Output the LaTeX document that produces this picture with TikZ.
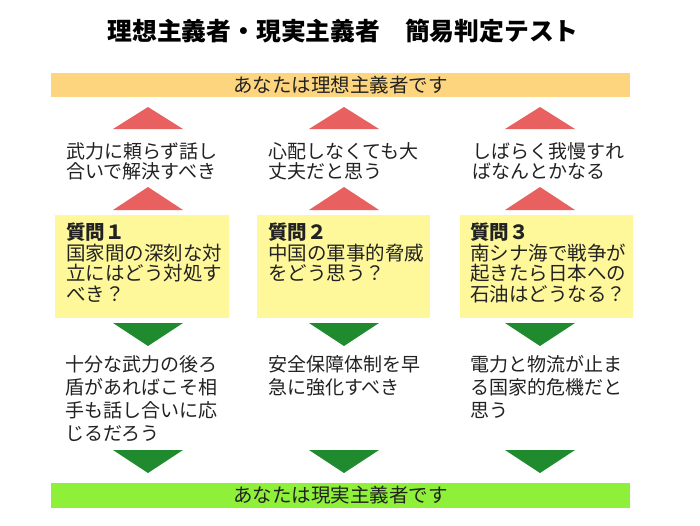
\documentclass[tikz,border=0pt]{standalone}
\usepackage{fontspec}
\setmainfont{Noto Sans CJK JP}
\definecolor{orangebar}{HTML}{FDD57E}
\definecolor{greenbar}{HTML}{8FF03A}
\definecolor{redtri}{HTML}{E8605F}
\definecolor{greentri}{HTML}{1F8A2E}
\definecolor{qbox}{HTML}{FFF89A}
\definecolor{ink}{HTML}{222222}
\tikzset{
  bar/.style={inner sep=0pt, minimum width=579pt, minimum height=24.5pt},
  bartext/.style={inner sep=0pt, anchor=base, text=ink, font=\fontsize{19.5}{20}\selectfont},
  uptri/.style={fill=redtri},
  downtri/.style={fill=greentri},
  qboxstyle/.style={fill=qbox},
  smalltext/.style={inner sep=0pt, anchor=base west, align=left, text=ink, text width=180pt},
}
\begin{document}
\begin{tikzpicture}[x=1pt,y=-1pt]
\useasboundingbox (0,0) rectangle (700,525);
\fill[white] (0,0) rectangle (700,525);
% title
\node[inner sep=0pt, anchor=base, font=\fontsize{24.8}{26}\selectfont\bfseries] (title) at (343,40) {理想主義者・現実主義者　簡易判定テスト};
% bars
\node[bar, fill=orangebar] (ideal) at (340.5,85) {};
\node[bartext] (idealtext) at (340.5,92.3) {あなたは理想主義者です};
\node[bar, fill=greenbar] (real) at (340.5,495.5) {};
\node[bartext] (realtext) at (340.5,502.8) {あなたは現実主義者です};
% triangles
\foreach \c in {148,344,540}{
  \fill[uptri] (\c-35,129) -- (\c,107) -- (\c+35,129) -- cycle;
  \fill[uptri] (\c-35,210) -- (\c,187) -- (\c+35,210) -- cycle;
  \fill[downtri] (\c-35,323) -- (\c,346) -- (\c+35,323) -- cycle;
  \fill[downtri] (\c-35,450) -- (\c,473) -- (\c+35,450) -- cycle;
}
% question boxes
\fill[qboxstyle] (55,215) rectangle (229,318);
\fill[qboxstyle] (257,215) rectangle (430,318);
\fill[qboxstyle] (460,215) rectangle (633,318);
% upper answers
\node[smalltext, font=\fontsize{19}{20}\selectfont] (a1) at (66,158.2) {武力に頼らず話し\\合いで解決すべき};
\node[smalltext, font=\fontsize{19}{20}\selectfont] (a2) at (268,158.2) {心配しなくても大\\丈夫だと思う};
\node[smalltext, font=\fontsize{19}{20}\selectfont] (a3) at (472,158.2) {しばらく我慢すれ\\ばなんとかなる};
% questions
\node[smalltext, font=\fontsize{19.5}{20.5}\selectfont] (q1) at (66,239.5) {\textbf{質問１}\\国家間の深刻な対\\立にはどう対処す\\べき？};
\node[smalltext, font=\fontsize{19.5}{20.5}\selectfont] (q2) at (268,239.5) {\textbf{質問２}\\中国の軍事的脅威\\をどう思う？};
\node[smalltext, font=\fontsize{19.5}{20.5}\selectfont] (q3) at (470,239.5) {\textbf{質問３}\\南シナ海で戦争が\\起きたら日本への\\石油はどうなる？};
% lower answers
\node[smalltext, font=\fontsize{19}{23}\selectfont] (b1) at (65,371) {十分な武力の後ろ\\盾があればこそ相\\手も話し合いに応\\じるだろう};
\node[smalltext, font=\fontsize{19}{23}\selectfont] (b2) at (268,371) {安全保障体制を早\\急に強化すべき};
\node[smalltext, font=\fontsize{19}{23}\selectfont] (b3) at (470,371) {電力と物流が止ま\\る国家的危機だと\\思う};
\end{tikzpicture}
\end{document}
